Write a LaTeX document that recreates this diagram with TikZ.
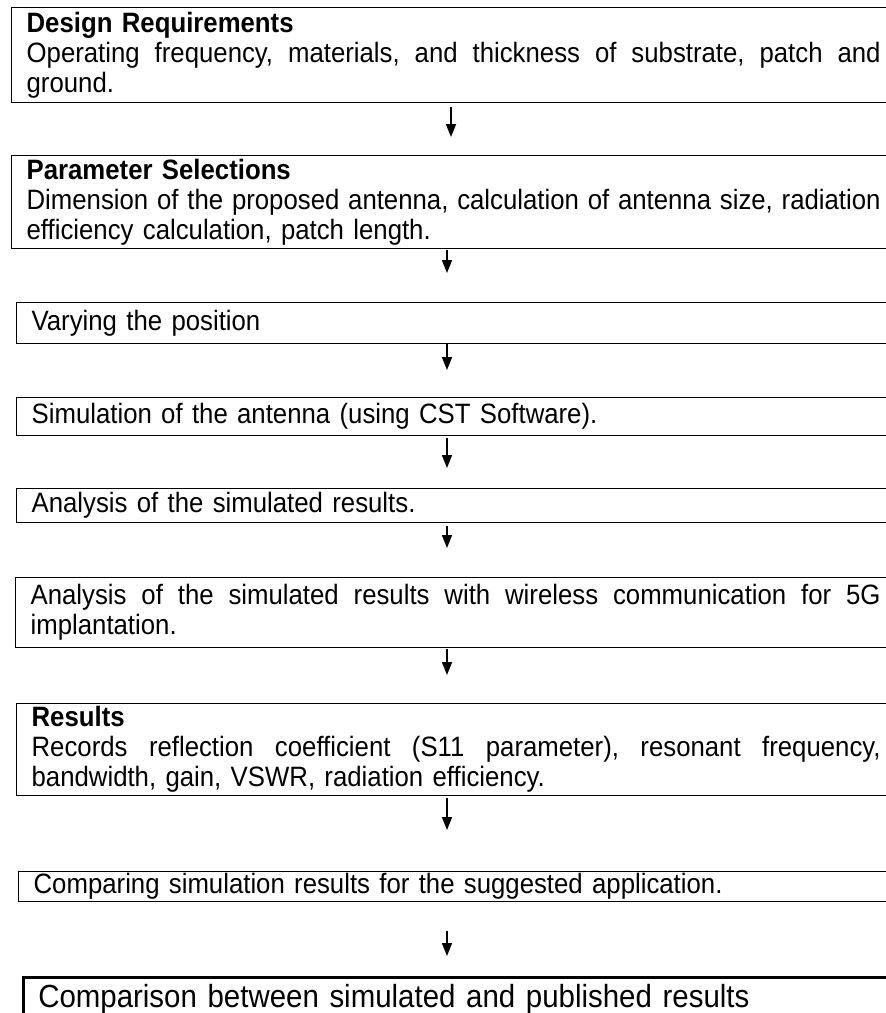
\documentclass[tikz,border=0pt]{standalone}
\usepackage{fontspec}
\setmainfont{Liberation Sans}[FakeStretch=0.92]
\usetikzlibrary{arrows.meta}
\newcommand\myjust[2]{\leavevmode\hbox to #1{\frenchspacing\spaceskip=.256em plus 1fil\xspaceskip=.256em plus 1fil\relax #2}}
\begin{document}
\begin{tikzpicture}[x=1pt,y=-1pt,
  box/.style={draw, line width=1.3pt, rectangle, anchor=north west, inner xsep=15pt, inner ysep=0pt,
    align=left, font=\fontsize{28}{30}\selectfont},
  arr/.style={line width=1.7pt, -{Triangle[length=13pt,width=10pt]}}]
\clip (0,0) rectangle (886,1013);
\fill[white] (0,0) rectangle (886,1013);
\coordinate (ax1) at (451,0);
\coordinate (ax) at (447,0);
\node[box, text width=854pt, minimum height=95pt] (b1) at (11,7)
  {\textbf{Design Requirements}\\
   \myjust{854pt}{Operating frequency, materials, and thickness of substrate, patch and}\\
   ground.};
\node[box, text width=854pt, minimum height=93pt] (b2) at (11,155)
  {\textbf{Parameter Selections}\\
   \myjust{854pt}{Dimension of the proposed antenna, calculation of antenna size, radiation}\\
   efficiency calculation, patch length.};
\node[box, text width=849pt, minimum height=41pt] (b3) at (16,302) {Varying the position};
\node[box, text width=849pt, minimum height=38pt] (b4) at (16,397) {Simulation of the antenna (using CST Software).};
\node[box, text width=849pt, minimum height=34pt] (b5) at (16,488) {Analysis of the simulated results.};
\node[box, text width=850pt, minimum height=70pt] (b6) at (15,577)
  {\myjust{850pt}{Analysis of the simulated results with wireless communication for 5G}\\
   implantation.};
\node[box, text width=849pt, minimum height=92pt] (b7) at (16,703)
  {\textbf{Results}\\
   \myjust{849pt}{Records reflection coefficient (S11 parameter), resonant frequency,}\\
   bandwidth, gain, VSWR, radiation efficiency.};
\node[box, text width=847pt, minimum height=30pt] (b8) at (18,871) {Comparing simulation results for the suggested application.};
\node[box, line width=2.5pt, text width=845pt, minimum height=43pt, font=\fontsize{32}{34}\selectfont] (b9) at (22,976) {Comparison between simulated and published results};
\draw[arr, shorten <=4pt, shorten >=18pt] (b1.south -| ax1) -- (b2.north -| ax1);
\draw[arr, shorten <=1pt, shorten >=29pt] (b2.south -| ax) -- (b3.north -| ax);
\draw[arr, shorten <=0pt, shorten >=27pt] (b3.south -| ax) -- (b4.north -| ax);
\draw[arr, shorten <=2pt, shorten >=20pt] (b4.south -| ax) -- (b5.north -| ax);
\draw[arr, shorten <=3pt, shorten >=29pt] (b5.south -| ax) -- (b6.north -| ax);
\draw[arr, shorten <=1pt, shorten >=28pt] (b6.south -| ax) -- (b7.north -| ax);
\draw[arr, shorten <=2pt, shorten >=41pt] (b7.south -| ax) -- (b8.north -| ax);
\draw[arr, shorten <=29pt, shorten >=20pt] (b8.south -| ax) -- (b9.north -| ax);
\end{tikzpicture}
\end{document}
